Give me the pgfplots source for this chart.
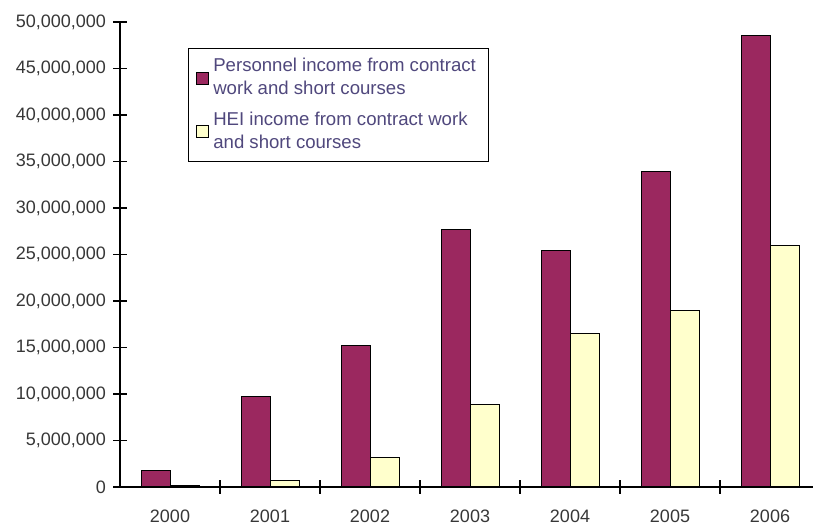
\documentclass[border=0pt]{standalone}
\usepackage{fontspec}
\setmainfont{Liberation Sans}
\usepackage{pgfplots}
\pgfplotsset{compat=1.18}
\definecolor{barpurple}{RGB}{155,40,95}
\definecolor{baryellow}{RGB}{255,255,204}
\definecolor{txt}{RGB}{55,55,55}
\definecolor{legtxt}{RGB}{80,72,125}
\begin{document}
\begin{tikzpicture}
\useasboundingbox (0,0) rectangle (406.5pt,264pt);
\begin{axis}[
  at={(60pt,20.5pt)}, anchor=south west,
  scale only axis, width=346.5pt, height=232.5pt,
  xmin=-0.5, xmax=6.43, ymin=0, ymax=50000000,
  axis x line*=bottom, axis y line*=left,
  axis line style={black, line width=0.8pt},
  ybar=0pt, bar width=14.5pt,
  xtick={0.5,1.5,2.5,3.5,4.5,5.5}, xticklabels={},
  extra x ticks={0,1,2,3,4,5,6},
  extra x tick labels={2000,2001,2002,2003,2004,2005,2006},
  extra x tick style={major tick length=0pt, xticklabel style={yshift=-8pt}},
  ytick={0,5000000,...,50000000},
  scaled y ticks=false,
  yticklabel style={/pgf/number format/.cd, fixed, 1000 sep={,}, assume math mode=true},
  tick align=center, major tick length=7pt,
  tick style={black, line width=0.8pt},
  ticklabel style={font=\fontsize{9}{10}\selectfont, text=txt},
  legend style={at={(0.098,0.944)}, anchor=north west, draw=black, fill=white,
    font=\fontsize{9.3}{11.5}\selectfont, text=legtxt, cells={align=left},
    inner xsep=4pt, inner ysep=3pt, row sep=3pt},
  legend cell align=left,
  legend image code/.code={\draw[#1] (0pt,-3pt) rectangle (6pt,3pt);},
]
\addplot[draw=black, line width=0.5pt, fill=barpurple] coordinates {
(0,1800000) (1,9700000) (2,15200000) (3,27700000) (4,25400000) (5,33900000) (6,48500000)};
\addplot[draw=black, line width=0.5pt, fill=baryellow] coordinates {
(0,150000) (1,650000) (2,3200000) (3,8900000) (4,16500000) (5,19000000) (6,26000000)};
\legend{{Personnel income from contract\\work and short courses},{HEI income from contract work\\and short courses}}
\end{axis}
\end{tikzpicture}
\end{document}
